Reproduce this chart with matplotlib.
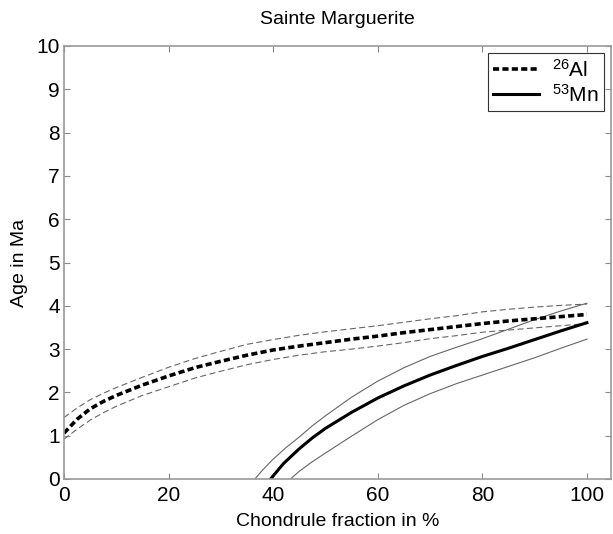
import numpy as np
import matplotlib
matplotlib.use('Agg')
import matplotlib.pyplot as plt

plt.rcParams['font.family'] = ['Liberation Sans', 'DejaVu Sans']
plt.rcParams['mathtext.default'] = 'regular'

# 26Al curves (central and error envelope)
al_x = [0, 2.5, 5, 7.5, 10, 15, 20, 25, 30, 35, 40, 45, 50, 55, 60, 65, 70, 75, 80, 85, 90, 95, 100]
al_mid = [1.06, 1.38, 1.62, 1.79, 1.93, 2.17, 2.38, 2.57, 2.72, 2.86, 2.98, 3.07, 3.15, 3.23,
          3.30, 3.38, 3.45, 3.52, 3.59, 3.65, 3.70, 3.75, 3.80]
al_hi = [1.42, 1.64, 1.83, 1.98, 2.11, 2.35, 2.58, 2.78, 2.95, 3.11, 3.22, 3.32, 3.40, 3.47,
         3.54, 3.62, 3.70, 3.77, 3.86, 3.92, 3.97, 4.01, 4.04]
al_lo = [0.92, 1.15, 1.36, 1.53, 1.68, 1.93, 2.13, 2.33, 2.49, 2.64, 2.76, 2.86, 2.94, 3.00,
         3.07, 3.15, 3.24, 3.31, 3.39, 3.44, 3.49, 3.54, 3.59]

# 53Mn curves
mn_mid_x = [39.5, 42, 45, 47.5, 50, 55, 60, 65, 70, 75, 80, 85, 90, 95, 100]
mn_mid = [0, 0.36, 0.70, 0.95, 1.17, 1.54, 1.87, 2.15, 2.40, 2.62, 2.83, 3.02, 3.22, 3.42, 3.61]
mn_hi_x = [36.5, 38, 40, 42.5, 45, 47.5, 50, 55, 60, 65, 70, 75, 80, 85, 90, 95, 100]
mn_hi = [0, 0.21, 0.46, 0.73, 0.97, 1.23, 1.46, 1.89, 2.26, 2.57, 2.83, 3.04, 3.24, 3.46,
         3.68, 3.88, 4.06]
mn_lo_x = [43.3, 45, 47.5, 50, 55, 60, 65, 70, 75, 80, 85, 90, 95, 100]
mn_lo = [0, 0.18, 0.40, 0.60, 0.99, 1.37, 1.70, 1.97, 2.20, 2.40, 2.60, 2.80, 3.02, 3.23]

fig = plt.figure(figsize=(6.13, 5.34), dpi=100)
ax = fig.add_axes([64/613, 55/534, 547/613, 433/534])

# envelopes
ax.plot(al_x, al_hi, color='#666666', lw=0.8, dashes=(5.5, 3))
ax.plot(al_x, al_lo, color='#666666', lw=0.8, dashes=(5.5, 3))
ax.plot(mn_hi_x, mn_hi, color='#666666', lw=0.8)
ax.plot(mn_lo_x, mn_lo, color='#666666', lw=0.8)

# central curves
ax.plot(al_x, al_mid, color='black', lw=2.6, dashes=(1.7, 0.9), label=r'$^{26}$Al')
ax.plot(mn_mid_x, mn_mid, color='black', lw=2.2, label=r'$^{53}$Mn')

ax.set_xlim(0, 104.6)
ax.set_ylim(0, 10)
ax.set_xticks([0, 20, 40, 60, 80, 100])
ax.set_yticks(range(0, 11))
ax.tick_params(direction='in', top=True, right=True, labelsize=15, length=4,
               color='#888888')
ax.tick_params(axis='x', pad=5)
ax.tick_params(axis='y', pad=3)
for s in ax.spines.values():
    s.set_color('#999999')
    s.set_linewidth(1.2)

ax.set_title('Sainte Marguerite', fontsize=14, pad=16)
ax.set_xlabel('Chondrule fraction in %', fontsize=14, labelpad=6)
ax.set_ylabel('Age in Ma', fontsize=14, labelpad=6)

leg = ax.legend(loc='upper right', fontsize=15, fancybox=False, framealpha=1,
                edgecolor='#333333', handlelength=2.2, borderaxespad=0.35,
                handletextpad=0.6, labelspacing=0.15, borderpad=0.25)
leg.get_frame().set_linewidth(0.8)

fig.savefig('out.png', dpi=100)
